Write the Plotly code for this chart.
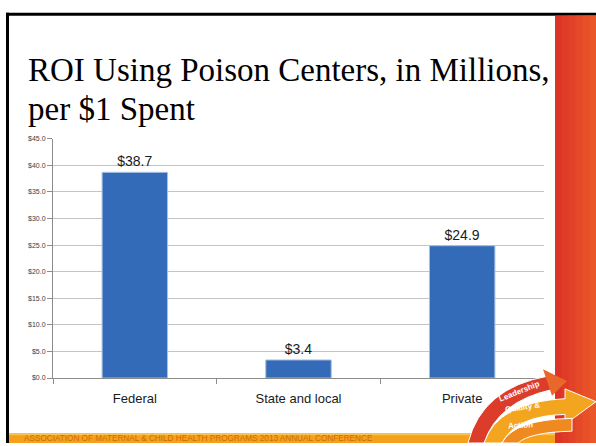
import plotly.graph_objects as go

W, H = 596, 446

categories = ["Federal", "State and local", "Private"]
roi_millions = [38.7, 3.4, 24.9]
bar_labels = [f"${v:.1f}" for v in roi_millions]
y_ticks = [0, 5, 10, 15, 20, 25, 30, 35, 40, 45]
y_tick_text = [f"${v:.1f}" for v in y_ticks]

title_lines = ["ROI Using Poison Centers, in Millions,", "per $1 Spent"]
footer_text = "ASSOCIATION OF MATERNAL & CHILD HEALTH PROGRAMS 2013 ANNUAL CONFERENCE"


def px_x(x):
    return x / W


def px_y(y):
    return 1 - y / H


def path(points):
    # points in pixels -> paper path string
    out = []
    for p in points:
        cmd, nums = p[0], p[1:]
        coords = []
        for i in range(0, len(nums), 2):
            coords.append(f"{px_x(nums[i]):.5f},{px_y(nums[i + 1]):.5f}")
        out.append(cmd + " " + " ".join(coords))
    return " ".join(out) + " Z"


fig = go.Figure()
fig.add_trace(go.Bar(
    x=categories,
    y=roi_millions,
    text=bar_labels,
    textposition="outside",
    textfont=dict(family="Liberation Sans", size=14, color="#1a1a1a"),
    marker=dict(color="#346bb8", line=dict(color="#a9c1e3", width=1)),
    cliponaxis=False,
    hoverinfo="skip",
))

shapes = []
# black frame
shapes.append(dict(type="rect", xref="paper", yref="paper", x0=px_x(6), x1=1, y0=px_y(12), y1=px_y(9),
                   fillcolor="black", line_width=0, layer="above"))
shapes.append(dict(type="rect", xref="paper", yref="paper", x0=px_x(6), x1=px_x(9), y0=0, y1=px_y(9),
                   fillcolor="black", line_width=0, layer="above"))
# red strip on the right (stepped gradient, overlapping to avoid seams)
reds = ["#dc3527", "#df3b27", "#e24227", "#e54a28", "#e85128", "#ea5628"]
step = (W - 555) / len(reds)
for i, c in enumerate(reds):
    shapes.append(dict(type="rect", xref="paper", yref="paper",
                       x0=px_x(555 + i * step), x1=1,
                       y0=0, y1=px_y(12), fillcolor=c, line_width=0, layer="above"))
# orange footer strip
shapes.append(dict(type="rect", xref="paper", yref="paper", x0=px_x(9), x1=px_x(555), y0=0, y1=px_y(436),
                   fillcolor="#f5a11c", line_width=0, layer="above"))
shapes.append(dict(type="rect", xref="paper", yref="paper", x0=px_x(9), x1=px_x(555), y0=px_y(438), y1=px_y(436),
                   fillcolor="#f8c352", line_width=0, layer="above"))
# logo arrows
shapes.append(dict(type="path", xref="paper", yref="paper", layer="above", line=dict(color="white", width=1),
                   fillcolor="#f3a51f",
                   path=path([("M", 484, 446), ("Q", 498, 404, 565, 401), ("L", 565, 391), ("L", 596, 404),
                              ("L", 565, 427), ("L", 565, 417), ("Q", 516, 418, 502, 446)])))
shapes.append(dict(type="path", xref="paper", yref="paper", layer="above", line=dict(color="white", width=1),
                   fillcolor="#ee8a20",
                   path=path([("M", 502, 446), ("Q", 514, 422, 572, 421), ("L", 572, 434), ("Q", 530, 435, 518, 446)])))
shapes.append(dict(type="path", xref="paper", yref="paper", layer="above", line=dict(color="white", width=1),
                   fillcolor="#dc3d2a",
                   path=path([("M", 468, 446), ("Q", 482, 390, 548, 378), ("L", 551, 392), ("Q", 498, 404, 484, 446)])))
shapes.append(dict(type="path", xref="paper", yref="paper", layer="above", line_width=0, fillcolor="#e9672a",
                   path=path([("M", 543, 371), ("L", 567, 383), ("L", 552, 398)])))

annotations = [
    dict(text=title_lines[0], x=px_x(26), y=px_y(67), xanchor="left", yanchor="middle",
         font=dict(family="Liberation Serif", size=33, color="black")),
    dict(text=title_lines[1], x=px_x(26), y=px_y(107), xanchor="left", yanchor="middle",
         font=dict(family="Liberation Serif", size=33, color="black")),
    dict(text=footer_text, x=px_x(22), y=px_y(441.5), xanchor="left", yanchor="middle",
         font=dict(family="Liberation Sans", size=8.2, color="#cf6c06")),
    dict(text="<b>Leadership</b>", x=px_x(519), y=px_y(394), textangle=-22,
         font=dict(family="Liberation Sans", size=8, color="white")),
    dict(text="<b>Quality &</b>", x=px_x(522), y=px_y(410), textangle=-8,
         font=dict(family="Liberation Sans", size=8, color="white")),
    dict(text="<b>Action</b>", x=px_x(520), y=px_y(428), textangle=-3,
         font=dict(family="Liberation Sans", size=8, color="white")),
]
for a in annotations:
    a.update(xref="paper", yref="paper", showarrow=False)
    a.setdefault("xanchor", "center")
    a.setdefault("yanchor", "middle")

fig.update_layout(
    width=W, height=H,
    margin=dict(l=0, r=0, t=0, b=0),
    paper_bgcolor="white", plot_bgcolor="white",
    showlegend=False,
    bargap=0.6,
    shapes=shapes,
    annotations=annotations,
    xaxis=dict(
        domain=[px_x(53), px_x(544)],
        showline=True, linecolor="#8c8c8c", linewidth=1,
        ticks="outside", tickson="boundaries", ticklen=5, tickcolor="#8c8c8c",
        tickfont=dict(family="Liberation Sans", size=13, color="#1a1a1a"),
        ticklabelstandoff=8,
        showgrid=False,
    ),
    yaxis=dict(
        domain=[px_y(380), px_y(137)],
        range=[0, 45],
        tickmode="array", tickvals=y_ticks, ticktext=y_tick_text,
        showline=True, linecolor="#8c8c8c", linewidth=1,
        ticks="outside", ticklen=5, tickcolor="#8c8c8c",
        tickfont=dict(family="Liberation Sans", size=7, color="#404040"),
        showgrid=True, gridcolor="#c4c4c4", gridwidth=1,
        zeroline=False,
    ),
)

fig.write_html("out.html", config={"displayModeBar": False},
               post_script="document.body.style.margin='0';document.body.style.overflow='hidden';")
